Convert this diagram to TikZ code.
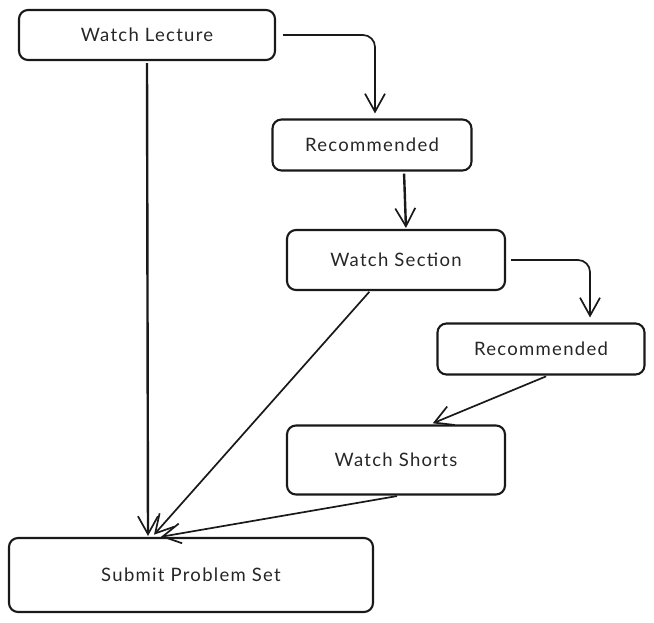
\documentclass[tikz,border=0pt]{standalone}
\usepackage{fontspec}
\setmainfont{Lato}[LetterSpace=7]
\usetikzlibrary{arrows.meta}
\begin{document}
\begin{tikzpicture}[x=1pt,y=-1pt,
  box/.style={draw=black!90, line width=2.1pt, rounded corners=9pt, inner sep=0pt, font=\fontsize{18.5}{22}\selectfont, text=black!85},
  arr/.style={draw=black!90, line width=1.7pt, -{Straight Barb[length=18pt,width=20pt,line width=1.7pt]}},
]
\useasboundingbox (0,0) rectangle (654,622);
\node[box, minimum width=256pt, minimum height=50pt] (lec) at (147,35) {Watch Lecture};
\node[box, minimum width=199pt, minimum height=51pt] (rec1) at (372,145) {Recommended};
\node[box, minimum width=218pt, minimum height=60pt] (ws) at (396,260) {Watch Section};
\node[box, minimum width=207pt, minimum height=51pt] (rec2) at (541,349) {Recommended};
\node[box, minimum width=218pt, minimum height=69pt] (sh) at (396,460) {Watch Shorts};
\node[box, minimum width=364pt, minimum height=74pt] (sub) at (191,575) {Submit Problem Set};

\draw[arr, rounded corners=12pt, shorten <=7pt, shorten >=5pt] (lec.east) -| ([xshift=3pt]rec1.north);
\draw[arr, line width=2.4pt, shorten <=2pt, shorten >=1pt] ([xshift=32pt]rec1.south) -- ([xshift=10pt]ws.north);
\draw[arr, rounded corners=12pt, shorten <=5pt, shorten >=5pt] (ws.east) -| ([xshift=49pt]rec2.north);
\draw[arr, shorten <=2pt, shorten >=3pt] ([xshift=7pt]rec2.south) -- ([xshift=34pt]sh.north);
\draw[arr, line width=2.4pt, shorten <=2pt, shorten >=1pt] (lec.south) -- ([xshift=-43pt]sub.north);
\draw[arr, shorten <=1pt, shorten >=3pt] ([xshift=-26pt]ws.south) -- ([xshift=-39pt]sub.north);
\draw[arr, shorten <=3pt, shorten >=1pt] ([xshift=4pt]sh.south) -- ([xshift=-31pt]sub.north);
\end{tikzpicture}
\end{document}
